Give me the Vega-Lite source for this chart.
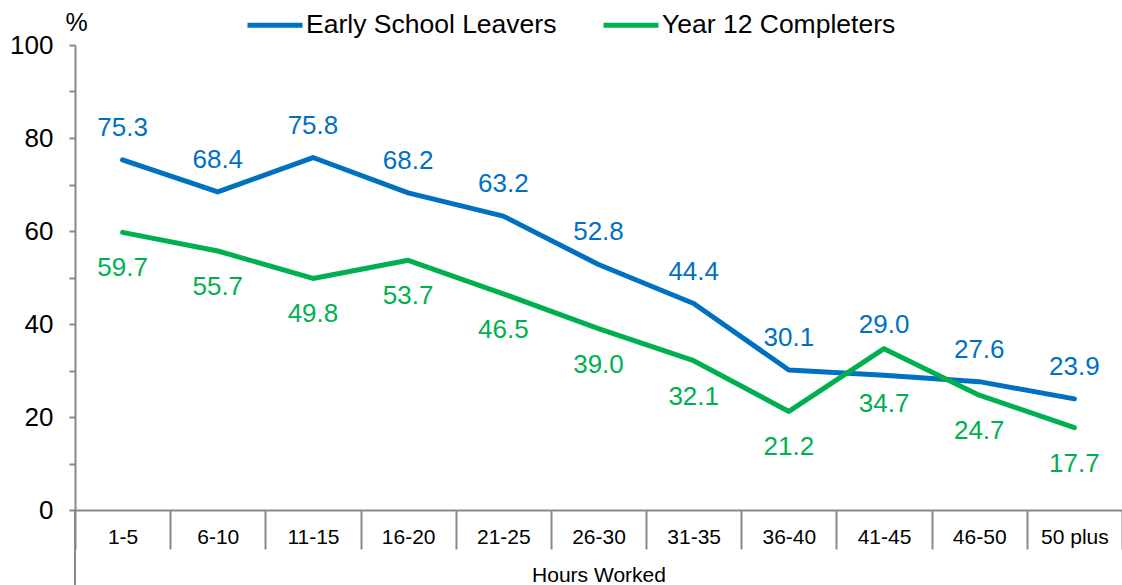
{
  "$schema": "https://vega.github.io/schema/vega-lite/v6.json",
  "width": 1047,
  "height": 465,
  "autosize": {"type": "none"},
  "padding": {"left": 75, "top": 45, "right": 0, "bottom": 75},
  "background": "white",
  "config": {"view": {"stroke": null}, "font": "Liberation Sans"},
  "data": {
    "values": [
      {"hours": "1-5", "series": "Early School Leavers", "value": 75.3},
      {"hours": "6-10", "series": "Early School Leavers", "value": 68.4},
      {"hours": "11-15", "series": "Early School Leavers", "value": 75.8},
      {"hours": "16-20", "series": "Early School Leavers", "value": 68.2},
      {"hours": "21-25", "series": "Early School Leavers", "value": 63.2},
      {"hours": "26-30", "series": "Early School Leavers", "value": 52.8},
      {"hours": "31-35", "series": "Early School Leavers", "value": 44.4},
      {"hours": "36-40", "series": "Early School Leavers", "value": 30.1},
      {"hours": "41-45", "series": "Early School Leavers", "value": 29.0},
      {"hours": "46-50", "series": "Early School Leavers", "value": 27.6},
      {"hours": "50 plus", "series": "Early School Leavers", "value": 23.9},
      {"hours": "1-5", "series": "Year 12 Completers", "value": 59.7},
      {"hours": "6-10", "series": "Year 12 Completers", "value": 55.7},
      {"hours": "11-15", "series": "Year 12 Completers", "value": 49.8},
      {"hours": "16-20", "series": "Year 12 Completers", "value": 53.7},
      {"hours": "21-25", "series": "Year 12 Completers", "value": 46.5},
      {"hours": "26-30", "series": "Year 12 Completers", "value": 39.0},
      {"hours": "31-35", "series": "Year 12 Completers", "value": 32.1},
      {"hours": "36-40", "series": "Year 12 Completers", "value": 21.2},
      {"hours": "41-45", "series": "Year 12 Completers", "value": 34.7},
      {"hours": "46-50", "series": "Year 12 Completers", "value": 24.7},
      {"hours": "50 plus", "series": "Year 12 Completers", "value": 17.7}
    ]
  },
  "encoding": {
    "x": {
      "field": "hours",
      "type": "nominal",
      "sort": null,
      "scale": {"type": "band", "paddingInner": 0, "paddingOuter": 0},
      "axis": {
        "title": "Hours Worked",
        "tickBand": "extent",
        "tickSize": 39,
        "tickColor": "#898989",
        "tickWidth": 2,
        "domainColor": "#898989",
        "domainWidth": 2,
        "labelAngle": 0,
        "labelFontSize": 21,
        "labelColor": "#000000",
        "labelPadding": -23,
        "labelBaseline": "top",
        "titleFontSize": 21,
        "titleFontWeight": "normal",
        "titleColor": "#000000",
        "titleBaseline": "top",
        "titleY": 54,
        "grid": false
      }
    },
    "y": {
      "field": "value",
      "type": "quantitative",
      "scale": {"domain": [0, 100]},
      "axis": {
        "values": [0, 10, 20, 30, 40, 50, 60, 70, 80, 90, 100],
        "labelExpr": "datum.value % 20 === 0 ? datum.label : ''",
        "tickSize": 6,
        "tickColor": "#898989",
        "tickWidth": 2,
        "domainColor": "#898989",
        "domainWidth": 2,
        "labelFontSize": 26,
        "labelColor": "#000000",
        "labelPadding": 16,
        "grid": false,
        "title": "%",
        "titleAngle": 0,
        "titleAlign": "center",
        "titleBaseline": "top",
        "titleX": 1,
        "titleY": -35,
        "titleFontSize": 25,
        "titleFontWeight": "normal",
        "titleColor": "#000000"
      }
    }
  },
  "layer": [
    {
      "mark": {"type": "rule", "color": "#898989", "strokeWidth": 2},
      "encoding": {
        "x": {"datum": "1-5", "type": "nominal", "bandPosition": 0},
        "y": {"datum": -16, "type": "quantitative"},
        "y2": {"datum": 0}
      }
    },
    {
      "mark": {"type": "line", "strokeWidth": 5, "strokeJoin": "round", "strokeCap": "round"},
      "encoding": {
        "color": {
          "field": "series",
          "type": "nominal",
          "scale": {"domain": ["Early School Leavers", "Year 12 Completers"], "range": ["#0070C0", "#00B050"]},
          "legend": {
            "title": null,
            "orient": "none",
            "legendX": 170,
            "legendY": -50,
            "direction": "horizontal",
            "symbolType": "stroke",
            "symbolSize": 3025,
            "symbolStrokeWidth": 5,
            "labelFontSize": 26.5,
            "labelColor": "#000000",
            "labelLimit": 0,
            "labelOffset": 1,
            "columnPadding": 36,
            "padding": 0
          }
        }
      }
    },
    {
      "transform": [{"filter": "datum.series === 'Early School Leavers' && datum.hours !== '41-45'"}],
      "mark": {"type": "text", "fontSize": 26, "baseline": "middle", "align": "center", "dy": -32, "color": "#0070C0"},
      "encoding": {"text": {"field": "value", "type": "quantitative", "format": ".1f"}}
    },
    {
      "transform": [{"filter": "datum.series === 'Early School Leavers' && datum.hours === '41-45'"}],
      "mark": {"type": "text", "fontSize": 26, "baseline": "middle", "align": "center", "dy": -50, "color": "#0070C0"},
      "encoding": {"text": {"field": "value", "type": "quantitative", "format": ".1f"}}
    },
    {
      "transform": [{"filter": "datum.series === 'Year 12 Completers' && datum.hours !== '41-45'"}],
      "mark": {"type": "text", "fontSize": 26, "baseline": "middle", "align": "center", "dy": 36, "color": "#00B050"},
      "encoding": {"text": {"field": "value", "type": "quantitative", "format": ".1f"}}
    },
    {
      "transform": [{"filter": "datum.series === 'Year 12 Completers' && datum.hours === '41-45'"}],
      "mark": {"type": "text", "fontSize": 26, "baseline": "middle", "align": "center", "dy": 55, "color": "#00B050"},
      "encoding": {"text": {"field": "value", "type": "quantitative", "format": ".1f"}}
    }
  ]
}
